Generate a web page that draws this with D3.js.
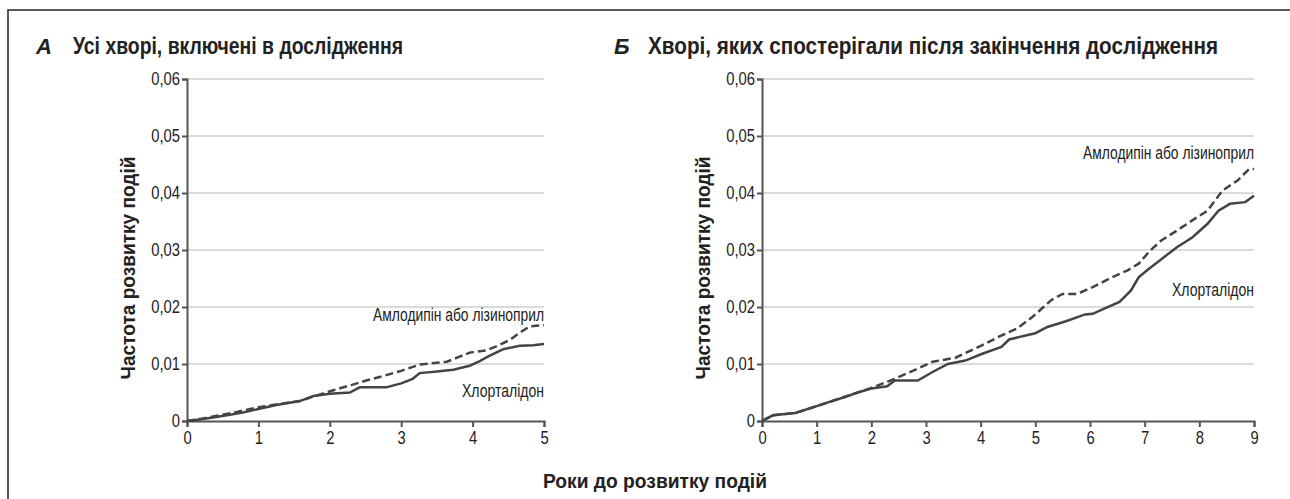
<!DOCTYPE html>
<html>
<head>
<meta charset="utf-8">
<script src="https://cdn.jsdelivr.net/npm/d3@7"></script>
<style>
  body { margin: 0; background: #fff; }
  svg text { font-family: "Liberation Sans", Arial, sans-serif; fill: #222; }
</style>
</head>
<body>
<svg id="svg1" width="1290" height="499"></svg>
<script>
// y ticks shared by both panels
var yTicks = [0, 0.01, 0.02, 0.03, 0.04, 0.05, 0.06];
var xTicksA = [0, 1, 2, 3, 4, 5];
var xTicksB = [0, 1, 2, 3, 4, 5, 6, 7, 8, 9];

// panel A: all patients (years, event rate)
var chlorA_x = [0, 0.2, 0.41, 0.6, 0.78, 1.0, 1.25, 1.58, 1.77, 2.0, 2.28, 2.42, 2.79, 3.0, 3.16, 3.26, 3.5, 3.73, 3.96, 4.1, 4.2, 4.3, 4.43, 4.66, 4.85, 5.0];
var chlorA_y = [0, 0.0003, 0.0007, 0.0011, 0.0015, 0.0021, 0.0028, 0.0035, 0.0044, 0.0048, 0.005, 0.0059, 0.0059, 0.0066, 0.0074, 0.0084, 0.0087, 0.009, 0.0097, 0.0105, 0.0112, 0.0118, 0.0126, 0.0132, 0.0133, 0.0135];
var amloA_x = [0, 0.2, 0.45, 0.7, 1.0, 1.3, 1.58, 1.8, 2.05, 2.3, 2.51, 2.75, 3.0, 3.26, 3.64, 3.8, 3.96, 4.2, 4.35, 4.52, 4.65, 4.8, 5.0];
var amloA_y = [0, 0.0004, 0.001, 0.0016, 0.0024, 0.003, 0.0035, 0.0044, 0.0054, 0.0063, 0.0071, 0.0079, 0.0088, 0.0099, 0.0104, 0.0112, 0.012, 0.0124, 0.0132, 0.0142, 0.0154, 0.0166, 0.0168];

// panel B: patients followed after the trial
var chlorB_x = [0, 0.2, 0.61, 1.0, 1.25, 1.52, 1.75, 2.0, 2.29, 2.43, 2.85, 3.12, 3.4, 3.72, 4.03, 4.38, 4.52, 5.0, 5.22, 5.56, 5.91, 6.05, 6.26, 6.54, 6.75, 6.89, 7.05, 7.24, 7.59, 7.87, 8.15, 8.35, 8.56, 8.84, 9.0];
var chlorB_y = [0, 0.001, 0.0014, 0.0026, 0.0034, 0.0042, 0.005, 0.0057, 0.0061, 0.0071, 0.0071, 0.0086, 0.01, 0.0106, 0.0118, 0.013, 0.0143, 0.0154, 0.0165, 0.0175, 0.0187, 0.0188, 0.0197, 0.0209, 0.0229, 0.0252, 0.0265, 0.0279, 0.0305, 0.0322, 0.0346, 0.0369, 0.0381, 0.0384, 0.0395];
var amloB_x = [0, 0.2, 0.61, 1.0, 1.5, 2.0, 2.43, 2.85, 3.12, 3.54, 4.03, 4.38, 4.66, 4.94, 5.15, 5.29, 5.5, 5.77, 6.05, 6.4, 6.68, 6.89, 7.1, 7.31, 7.59, 7.87, 8.15, 8.42, 8.7, 8.91, 9.0];
var amloB_y = [0, 0.001, 0.0014, 0.0026, 0.0042, 0.0058, 0.0074, 0.0092, 0.0104, 0.0111, 0.0133, 0.015, 0.0162, 0.0182, 0.02, 0.0212, 0.0223, 0.0223, 0.0235, 0.0252, 0.0264, 0.0276, 0.0299, 0.0317, 0.0334, 0.0352, 0.0369, 0.0404, 0.0422, 0.0442, 0.0442];

var labelAmlo = 'Амлодипін або лізиноприл';
var labelChlor = 'Хлорталідон';

var svg = d3.select('#svg1');

// squeeze text to look like the condensed face of the original
function narrow(sel, k) {
    sel.each(function(){
        var w = this.getComputedTextLength();
        d3.select(this).attr('textLength', w * k).attr('lengthAdjust', 'spacingAndGlyphs');
    });
    return sel;
}

// outer frame (right and bottom run off the picture)
svg.append('rect')
    .attr('x', 8).attr('y', 10)
    .attr('width', 1300).attr('height', 520)
    .attr('fill', 'none')
    .attr('stroke', '#333')
    .attr('stroke-width', 1.6);

var fmt = function(d){ return d === 0 ? '0' : d3.format('.2f')(d).replace('.', ','); };

function drawPanel(p) {
    var x = d3.scaleLinear().domain([0, p.xmax]).range([p.left, p.right]);
    var y = d3.scaleLinear().domain([0, 0.06]).range([421, 79]);

    var g = svg.append('g');

    // gridlines
    g.selectAll('.grid')
        .data(yTicks.filter(function(d){ return d > 0; }))
        .enter().append('line')
        .attr('x1', p.left).attr('x2', p.right)
        .attr('y1', function(d){ return y(d); })
        .attr('y2', function(d){ return y(d); })
        .attr('stroke', '#cfcfcf')
        .attr('stroke-width', 1.5);

    var yAxis = g.append('g')
        .attr('transform', 'translate(' + p.left + ',0)')
        .call(d3.axisLeft(y).tickValues(yTicks).tickFormat(fmt).tickSize(5).tickPadding(2));
    var xAxis = g.append('g')
        .attr('transform', 'translate(0,421)')
        .call(d3.axisBottom(x).tickValues(p.xTicks).tickFormat(d3.format('d')).tickSize(6).tickPadding(4));

    [yAxis, xAxis].forEach(function(a){
        a.select('.domain').attr('stroke', '#555').attr('stroke-width', 2);
        a.selectAll('.tick line').attr('stroke', '#555').attr('stroke-width', 2);
        a.selectAll('text').attr('fill', '#333');
    });
    narrow(yAxis.selectAll('text').style('font-size', '18.5px'), 0.8);
    narrow(xAxis.selectAll('text').style('font-size', '18.5px'), 0.8);

    var line = d3.line()
        .x(function(d){ return x(d[0]); })
        .y(function(d){ return y(d[1]); });

    g.append('path')
        .datum(d3.zip(p.cx, p.cy))
        .attr('d', line)
        .attr('fill', 'none')
        .attr('stroke', '#444')
        .attr('stroke-width', 2.5);

    g.append('path')
        .datum(d3.zip(p.ax, p.ay))
        .attr('d', line)
        .attr('fill', 'none')
        .attr('stroke', '#444')
        .attr('stroke-width', 2.5)
        .attr('stroke-dasharray', '8,4');

    // titles
    g.append('text')
        .attr('x', p.letterX).attr('y', 54)
        .style('font-size', '22px').style('font-weight', 'bold').style('font-style', 'italic')
        .text(p.letter);
    g.append('text')
        .attr('x', p.titleX).attr('y', 54)
        .style('font-size', '23px').style('font-weight', 'bold')
        .attr('textLength', p.titleW).attr('lengthAdjust', 'spacingAndGlyphs')
        .text(p.title);

    // y axis title
    g.append('text')
        .attr('transform', 'translate(' + (p.left - 52) + ',268) rotate(-90)')
        .attr('text-anchor', 'middle')
        .style('font-size', '20px').style('font-weight', 'bold')
        .attr('textLength', 223).attr('lengthAdjust', 'spacingAndGlyphs')
        .text('Частота розвитку подій');

    // series labels
    g.append('text')
        .attr('x', p.right).attr('y', p.amloLabelY)
        .attr('text-anchor', 'end')
        .style('font-size', '17.5px')
        .attr('textLength', 171).attr('lengthAdjust', 'spacingAndGlyphs')
        .text(labelAmlo);
    g.append('text')
        .attr('x', p.right).attr('y', p.chlorLabelY)
        .attr('text-anchor', 'end')
        .style('font-size', '17.5px')
        .attr('textLength', 82).attr('lengthAdjust', 'spacingAndGlyphs')
        .text(labelChlor);
}

drawPanel({
    xmax: 5, left: 187, right: 544, xTicks: xTicksA,
    cx: chlorA_x, cy: chlorA_y, ax: amloA_x, ay: amloA_y,
    letter: 'А', letterX: 36, title: 'Усі хворі, включені в дослідження', titleX: 73, titleW: 330,
    amloLabelY: 321, chlorLabelY: 397
});

drawPanel({
    xmax: 9, left: 762, right: 1254, xTicks: xTicksB,
    cx: chlorB_x, cy: chlorB_y, ax: amloB_x, ay: amloB_y,
    letter: 'Б', letterX: 614, title: 'Хворі, яких спостерігали після закінчення дослідження', titleX: 648, titleW: 570,
    amloLabelY: 159, chlorLabelY: 296
});

// shared x axis title
svg.append('text')
    .attr('x', 655).attr('y', 488)
    .attr('text-anchor', 'middle')
    .style('font-size', '20px').style('font-weight', 'bold')
    .attr('textLength', 224).attr('lengthAdjust', 'spacingAndGlyphs')
    .text('Роки до розвитку подій');
</script>
</body>
</html>
